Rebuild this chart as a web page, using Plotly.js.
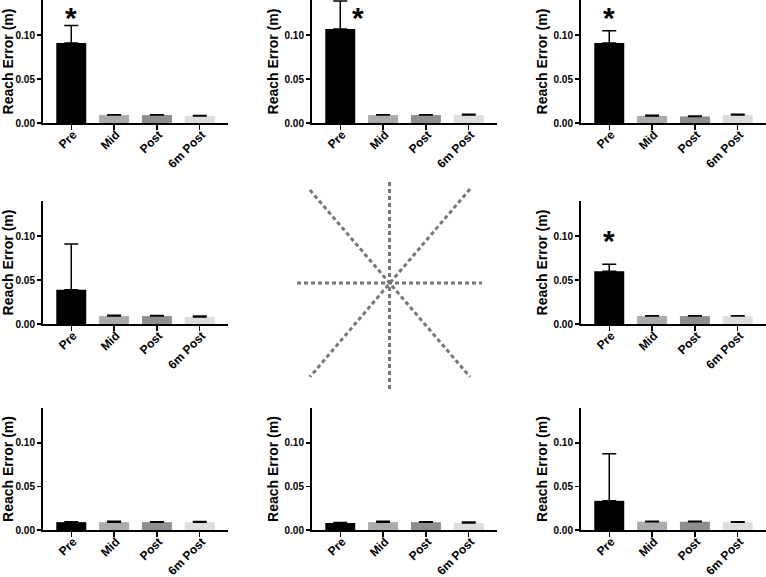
<!DOCTYPE html>
<html>
<head>
<meta charset="utf-8">
<script src="https://cdn.plot.ly/plotly-3.0.1.min.js"></script>
<style>html,body{margin:0;padding:0;background:#fff;}#chart{width:766px;height:577px;}</style>
</head>
<body>
<div id="chart"></div>
<script>
var categories = ['Pre', 'Mid', 'Post', '6m Post'];
var barColors = ['#000000', '#ababab', '#8e8e8e', '#dddddd'];

// panels in reading order (the centre cell holds the direction diagram)
var meanTL = [0.091, 0.009, 0.009, 0.008];
var errTL  = [0.020, 0.0005, 0.0005, 0.0005];
var meanTM = [0.107, 0.009, 0.009, 0.009];
var errTM  = [0.032, 0.0005, 0.0005, 0.001];
var meanTR = [0.091, 0.008, 0.0075, 0.009];
var errTR  = [0.014, 0.0007, 0.0005, 0.001];
var meanML = [0.039, 0.009, 0.009, 0.008];
var errML  = [0.052, 0.001, 0.0008, 0.001];
var meanMR = [0.060, 0.009, 0.009, 0.009];
var errMR  = [0.008, 0.0003, 0.0003, 0.0003];
var meanBL = [0.009, 0.009, 0.009, 0.009];
var errBL  = [0.0005, 0.001, 0.0005, 0.0007];
var meanBM = [0.008, 0.009, 0.009, 0.008];
var errBM  = [0.0007, 0.001, 0.0005, 0.0013];
var meanBR = [0.0335, 0.0095, 0.0095, 0.009];
var errBR  = [0.054, 0.0005, 0.0005, 0.0005];

// significance markers: panel index, x position (category units), top of marker (y units)
var starPanels = [1, 2, 3, 6];
var starX = [0, 0.42, 0, 0];
var starTop = [0.1395, 0.1395, 0.1395, 0.115];

// direction diagram: eight reach directions (segments through centre)
var dirX = [0, 0, null, -1, 1, null, -0.86, 0.87, null, 0.87, -0.86];
var dirY = [1, -1.05, null, 0, 0, null, 0.92, -0.93, null, 0.93, -0.93];

var W = 766, H = 577;
var colPx = [[43, 228], [312, 497], [581, 766]];
var rowPx = [[0, 123], [201, 324], [408, 530]];

var panels = [
  {m: meanTL, e: errTL, c: 0, r: 0},
  {m: meanTM, e: errTM, c: 1, r: 0},
  {m: meanTR, e: errTR, c: 2, r: 0},
  {m: meanML, e: errML, c: 0, r: 1},
  null,
  {m: meanMR, e: errMR, c: 2, r: 1},
  {m: meanBL, e: errBL, c: 0, r: 2},
  {m: meanBM, e: errBM, c: 1, r: 2},
  {m: meanBR, e: errBR, c: 2, r: 2}
];

var ff = 'Liberation Sans, Arial, sans-serif';
var data = [];
var layout = {
  width: W, height: H,
  margin: {l: 0, r: 0, t: 0, b: 0},
  paper_bgcolor: '#fff', plot_bgcolor: '#fff',
  showlegend: false,
  bargap: 0.3,
  font: {family: ff, color: '#000'},
  annotations: []
};

panels.forEach(function (p, i) {
  var n = i + 1;
  if (!p) return;
  data.push({
    type: 'bar',
    x: categories,
    y: p.m,
    xaxis: 'x' + n, yaxis: 'y' + n,
    marker: {color: barColors, line: {width: 0}},
    error_y: {type: 'data', array: p.e, arrayminus: p.e.map(function(){return 0;}), symmetric: false,
              color: '#000', thickness: 1.5, width: 7},
    hoverinfo: 'skip'
  });
  layout['xaxis' + n] = {
    domain: [colPx[p.c][0] / W, colPx[p.c][1] / W],
    anchor: 'y' + n,
    range: [-0.66, 3.66],
    showline: true, linecolor: '#000', linewidth: 2,
    ticks: 'outside', ticklen: 5, tickwidth: 1.5, tickcolor: '#000',
    tickangle: -45,
    ticklabelstandoff: -7,
    ticklabelshift: 2,
    tickfont: {family: ff, size: 12, color: '#000', weight: 'bold'},
    showgrid: false, zeroline: false, fixedrange: true
  };
  layout['yaxis' + n] = {
    domain: [1 - rowPx[p.r][1] / H, 1 - rowPx[p.r][0] / H],
    anchor: 'x' + n,
    range: [0, 0.14],
    tickvals: [0, 0.05, 0.10],
    ticktext: ['0.00', '0.05', '0.10'],
    showline: true, linecolor: '#000', linewidth: 2,
    ticks: 'outside', ticklen: 4, tickwidth: 1.5, tickcolor: '#000',
    tickfont: {family: ff, size: 10, color: '#000', weight: 'bold'},
    title: {text: 'Reach Error (m)', standoff: 3,
            font: {family: ff, size: 14, color: '#000', weight: 'bold'}},
    showgrid: false, zeroline: false, fixedrange: true
  };
});

starPanels.forEach(function (pn, k) {
  layout.annotations.push({
    xref: 'x' + pn, yref: 'y' + pn,
    x: starX[k], y: starTop[k],
    text: '<b>*</b>', showarrow: false,
    xanchor: 'center', yanchor: 'top',
    borderpad: 0,
    font: {family: ff, size: 30, color: '#000'}
  });
});

// centre direction diagram on hidden axes
data.push({
  type: 'scatter', mode: 'lines',
  x: dirX, y: dirY,
  xaxis: 'x5', yaxis: 'y5',
  line: {color: '#777777', width: 3, dash: '4px,3px'},
  connectgaps: false,
  hoverinfo: 'skip'
});
layout.xaxis5 = {domain: [297 / W, 482 / W], anchor: 'y5', range: [-1, 1], visible: false, fixedrange: true};
layout.yaxis5 = {domain: [1 - 389 / H, 1 - 182 / H], anchor: 'x5', range: [-1.05, 1], visible: false, fixedrange: true};

Plotly.newPlot('chart', data, layout, {displayModeBar: false, staticPlot: true});
</script>
</body>
</html>
